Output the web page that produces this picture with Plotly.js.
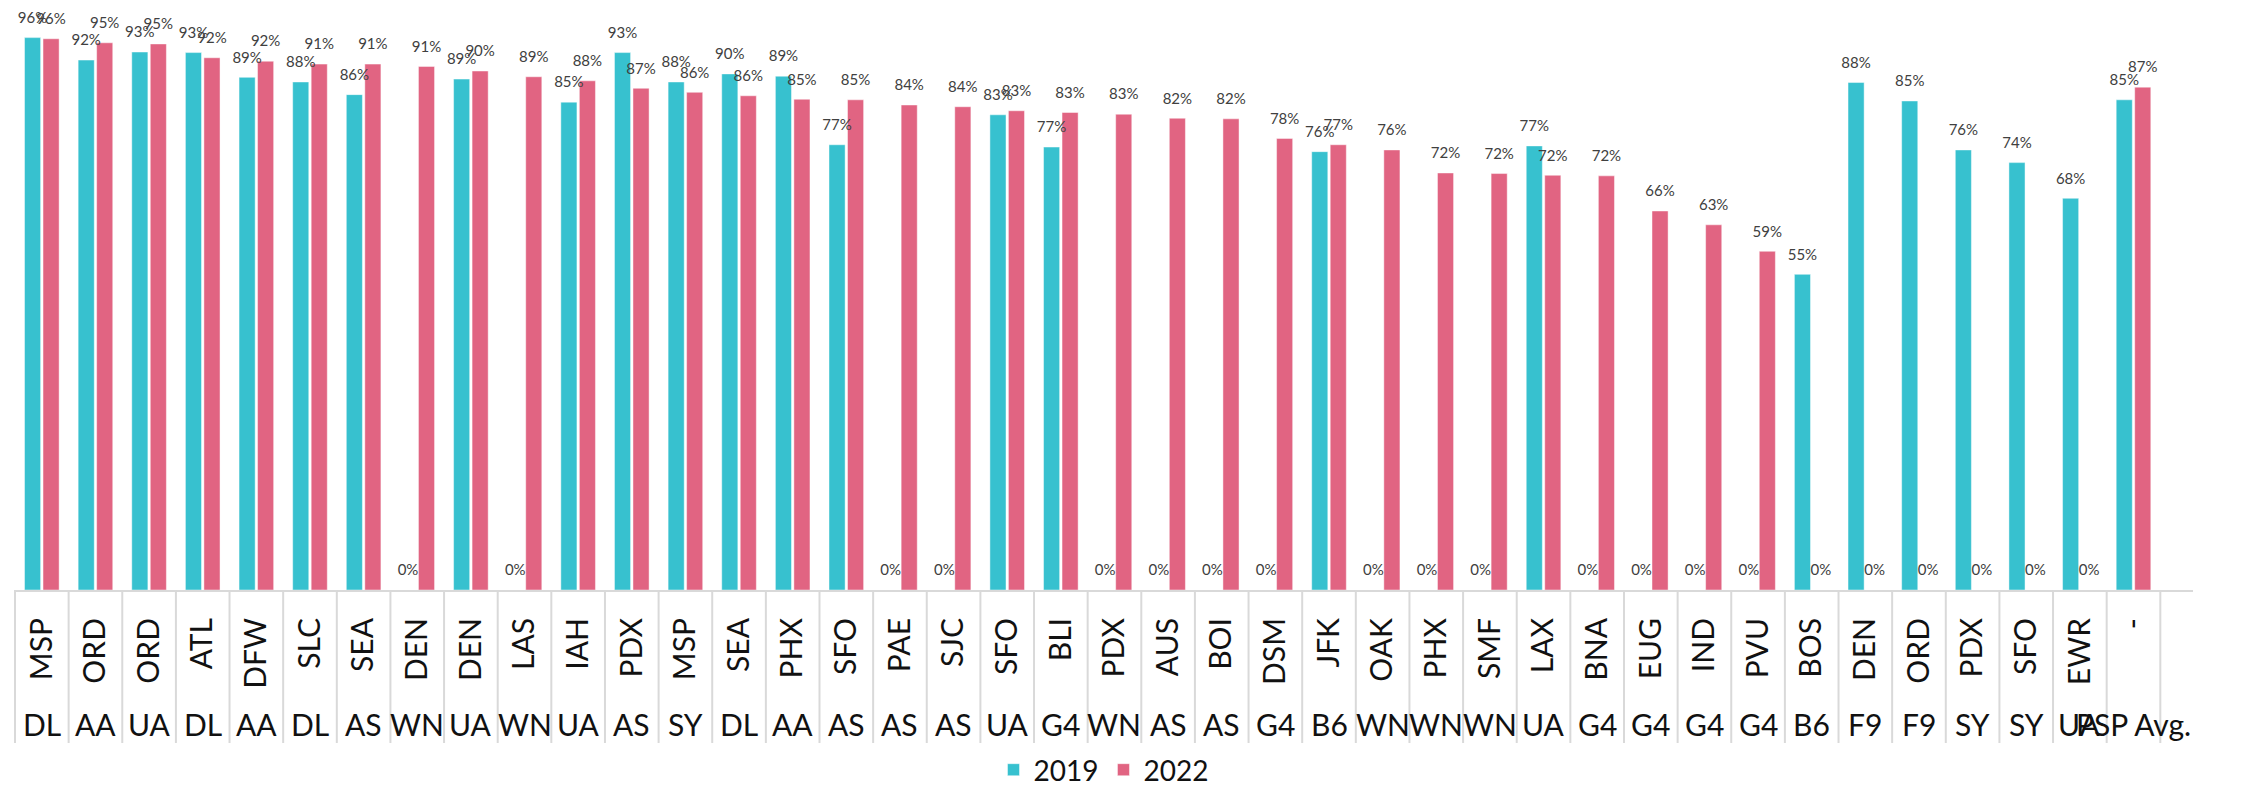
<!DOCTYPE html>
<html><head><meta charset="utf-8">
<script src="https://cdn.plot.ly/plotly-3.0.1.min.js"></script>
<style>html,body{margin:0;padding:0;background:#fff;} #chart{width:2256px;height:786px;}</style>
</head><body><div id="chart"></div>
<script>
const airports = ["MSP","ORD","ORD","ATL","DFW","SLC","SEA","DEN","DEN","LAS","IAH","PDX","MSP","SEA","PHX","SFO","PAE","SJC","SFO","BLI","PDX","AUS","BOI","DSM","JFK","OAK","PHX","SMF","LAX","BNA","EUG","IND","PVU","BOS","DEN","ORD","PDX","SFO","EWR","-"];
const carriers = ["DL","AA","UA","DL","AA","DL","AS","WN","UA","WN","UA","AS","SY","DL","AA","AS","AS","AS","UA","G4","WN","AS","AS","G4","B6","WN","WN","WN","UA","G4","G4","G4","G4","B6","F9","F9","SY","SY","UA","PSP Avg."];
const v2019 = [95.9,92.0,93.4,93.3,89.0,88.2,86.0,0,88.7,0,84.7,93.3,88.2,89.6,89.2,77.3,0,0,82.5,76.9,0,0,0,0,76.1,0,0,0,77.1,0,0,0,0,54.8,88.1,84.9,76.4,74.2,68.0,85.1];
const v2022 = [95.7,95.0,94.8,92.4,91.8,91.3,91.3,90.9,90.1,89.1,88.4,87.1,86.4,85.8,85.2,85.1,84.2,83.9,83.2,82.9,82.6,81.9,81.8,78.4,77.3,76.4,72.4,72.3,72.0,71.9,65.8,63.4,58.8,0,0,0,0,0,0,87.3];
const seriesNames = ["2019","2022"];
const seriesColors = ["#37C1CF","#E16482"];

const keys = airports.map((a,i)=>a+' '+carriers[i]);
const FONT = "Lato, 'Open Sans', sans-serif";

const traces = [];
[v2019, v2022].forEach((vals, k) => {
  traces.push({
    type:'bar', x:keys, y:vals, name:seriesNames[k],
    marker:{color:seriesColors[k], line:{color:'rgba(255,255,255,0.45)', width:1}},
    hoverinfo:'skip'
  });
});
[v2019, v2022].forEach((vals, k) => {
  traces.push({
    type:'scatter', mode:'markers+text', x:keys, y:vals, showlegend:false,
    marker:{size:16, opacity:0, color:seriesColors[k]},
    texttemplate:'%{y:.0f}%', textposition:'top center',
    textfont:{family:FONT, size:15, color:'#404040'},
    cliponaxis:false, hoverinfo:'skip'
  });
});

const shapes = [];
for (let i = 0; i <= keys.length; i++) {
  shapes.push({type:'line', xref:'x', yref:'paper', x0:i-0.5, x1:i-0.5, y0:0, y1:-0.2656,
    line:{color:'#d9d9d9', width:2}, layer:'above'});
}
const annotations = keys.map((k,i)=>({
  x:k, xref:'x', y:-0.2326, yref:'paper', text:carriers[i], showarrow:false,
  yanchor:'middle', xanchor:'center', font:{family:FONT, size:30, color:'#111'}
}));

const layout = {
  width:2256, height:786,
  margin:{l:14, r:63, t:14, b:196, autoexpand:false},
  paper_bgcolor:'#fff', plot_bgcolor:'#fff',
  barmode:'group', bargap:0.31, bargroupgap:0.13,
  scattermode:'group', scattergap:0.31,
  font:{family:FONT, color:'#111'},
  xaxis:{type:'category', tickmode:'array', tickvals:keys, ticktext:airports,
    tickangle:-90, tickfont:{family:FONT, size:30, color:'#111'},
    showline:true, linecolor:'#d9d9d9', linewidth:2, ticks:'', showgrid:false,
    ticklabelstandoff:14, automargin:false, fixedrange:true},
  yaxis:{range:[0,100], visible:false, showgrid:false, zeroline:false, fixedrange:true},
  showlegend:true,
  legend:{orientation:'h', x:0.5, xanchor:'center', y:-0.3125, yanchor:'middle',
    font:{family:FONT, size:28, color:'#111'}, traceorder:'normal'},
  shapes:shapes, annotations:annotations
};
Plotly.newPlot('chart', traces, layout, {staticPlot:true, displayModeBar:false});
</script>
</body></html>
